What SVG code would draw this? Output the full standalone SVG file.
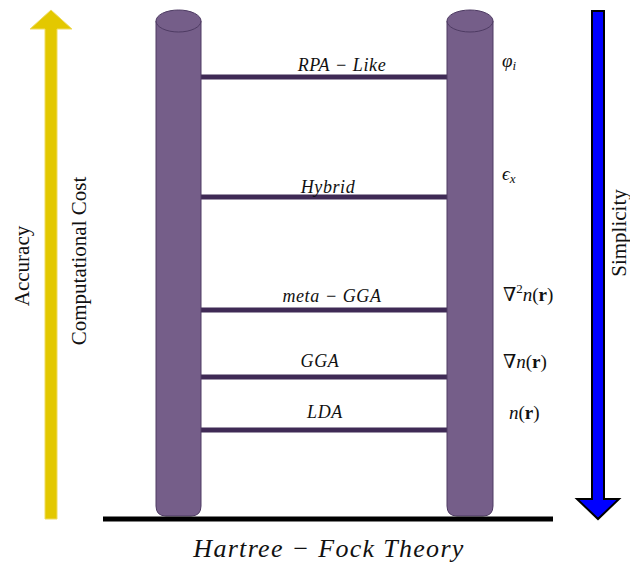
<svg xmlns="http://www.w3.org/2000/svg" width="630" height="562" viewBox="0 0 630 562">
  <style>
    .pillar { fill: #755e89; stroke: #4e3b63; stroke-width: 1; }
    .rung { stroke: #3f2a55; stroke-width: 5; }
    .lbl { font-family: "Liberation Serif", "DejaVu Serif", serif; font-style: italic; font-size: 18px; letter-spacing: 0.6px; fill: #111; text-anchor: middle; }
    .math { font-family: "Liberation Serif", "DejaVu Serif", serif; font-size: 19px; fill: #111; }
    .side { font-family: "Liberation Serif", "DejaVu Serif", serif; font-size: 21px; fill: #111; text-anchor: middle; }
  </style>

  <!-- accuracy arrow (up) -->
  <g id="accuracy-arrow">
    <polygon points="45,519 57,519 57,29 72,29 51,10 30,29 45,29" fill="#e3c800" stroke="#f0dc60" stroke-width="1"/>
    <text class="side" transform="translate(29,266) rotate(-90)">Accuracy</text>
    <text class="side" transform="translate(86,261) rotate(-90)">Computational Cost</text>
  </g>

  <!-- simplicity arrow (down) -->
  <g id="simplicity-arrow">
    <polygon points="592,11 604,11 604,499 619,499 598,519 577,499 592,499" fill="#0000ff" stroke="#000" stroke-width="2" stroke-linejoin="miter"/>
    <text class="side" transform="translate(626,233) rotate(-90)">Simplicity</text>
  </g>

  <!-- connectors: ladder rungs -->
  <g id="rungs">
    <line class="rung" x1="200" y1="77" x2="448" y2="77"/>
    <line class="rung" x1="200" y1="197" x2="448" y2="197"/>
    <line class="rung" x1="200" y1="310" x2="448" y2="310"/>
    <line class="rung" x1="200" y1="377" x2="448" y2="377"/>
    <line class="rung" x1="200" y1="430" x2="448" y2="430"/>
  </g>

  <!-- left pillar -->
  <g id="pillar-left">
    <path class="pillar" d="M156,21 L156,506 Q156,516 166,516 L191,516 Q201,516 201,506 L201,21 Z"/>
    <ellipse class="pillar" cx="178.5" cy="21" rx="22.5" ry="11"/>
  </g>

  <!-- right pillar -->
  <g id="pillar-right">
    <path class="pillar" d="M447,21 L447,506 Q447,516 457,516 L483,516 Q493,516 493,506 L493,21 Z"/>
    <ellipse class="pillar" cx="470" cy="21" rx="23" ry="11"/>
  </g>

  <!-- ground line -->
  <g id="ground">
    <line x1="103" y1="519" x2="553" y2="519" stroke="#000" stroke-width="5"/>
    <text class="lbl" x="329" y="557" style="font-size:26px;letter-spacing:1.3px">Hartree − Fock Theory</text>
  </g>

  <!-- rung labels -->
  <g id="rung-labels">
    <text class="lbl" x="342" y="71">RPA − Like</text>
    <text class="lbl" x="328" y="193">Hybrid</text>
    <text class="lbl" x="332" y="302">meta − GGA</text>
    <text class="lbl" x="320" y="367">GGA</text>
    <text class="lbl" x="325" y="418">LDA</text>
  </g>

  <!-- ingredient labels -->
  <g id="ingredients">
    <text class="math" x="502" y="67"><tspan font-style="italic">φ</tspan><tspan font-style="italic" font-size="13" dy="3">i</tspan></text>
    <text class="math" x="502" y="180"><tspan font-style="italic">ϵ</tspan><tspan font-style="italic" font-size="13" dy="3">x</tspan></text>
    <text class="math" x="503" y="301">∇<tspan font-size="13" dy="-8">2</tspan><tspan font-style="italic" dy="8">n</tspan>(<tspan font-weight="bold">r</tspan>)</text>
    <text class="math" x="503" y="368">∇<tspan font-style="italic">n</tspan>(<tspan font-weight="bold">r</tspan>)</text>
    <text class="math" x="509" y="419"><tspan font-style="italic">n</tspan>(<tspan font-weight="bold">r</tspan>)</text>
  </g>
</svg>
